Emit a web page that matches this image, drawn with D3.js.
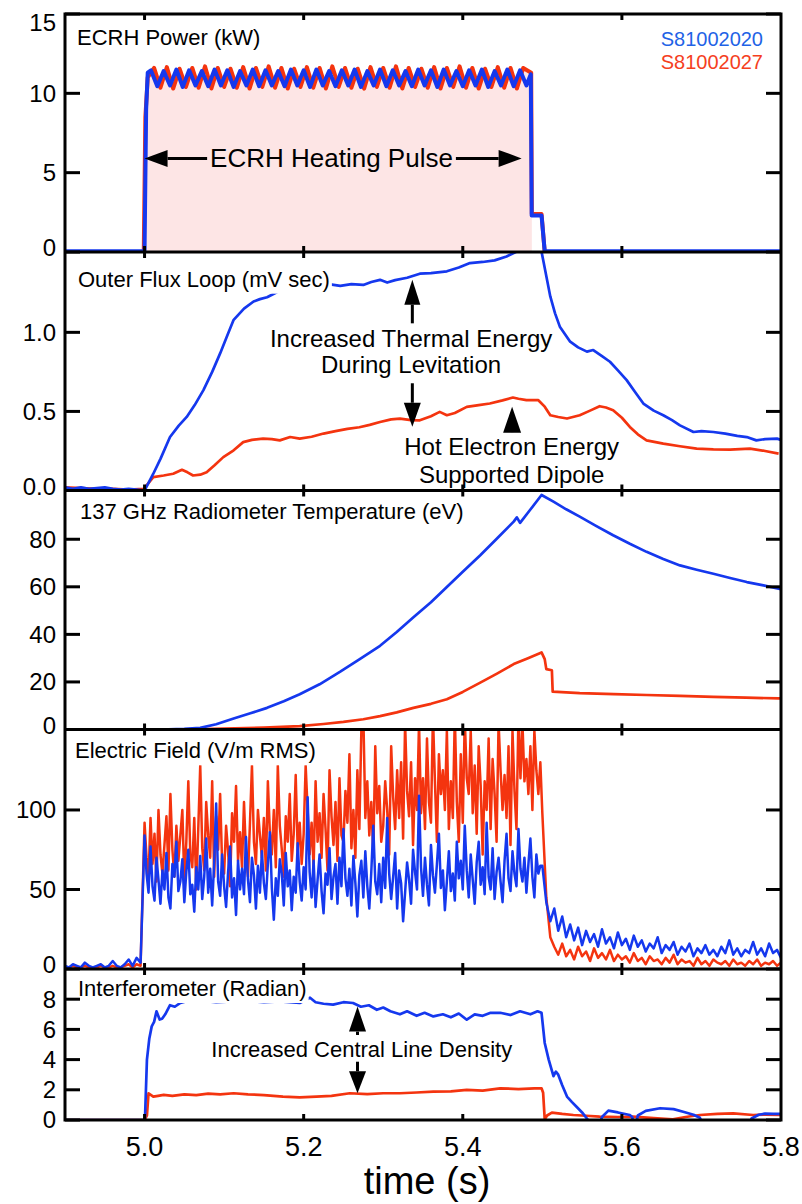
<!DOCTYPE html>
<html>
<head>
<meta charset="utf-8">
<script src="https://d3js.org/d3.v7.min.js"></script>
<style>
  body { margin: 0; background: #fff; }
  svg { display: block; font-family: "Liberation Sans", Arial, Helvetica, sans-serif; }
</style>
</head>
<body>
<div id="chart"></div>
<script>
// ---- data ----
var xTicks = [5.0, 5.2, 5.4, 5.6, 5.8];
var shotBlue = "S81002020", shotRed = "S81002027";

// ECRH power (kW): pulse ripple sampled every 8 ms
var ecrhBluePulse = [11.45,10.45,11.4,10.5,11.5,10.4,11.45,10.5,11.4,10.45,11.5,10.5,11.45,10.4,11.4,10.5,11.5,10.45,11.45,10.5,
  11.4,10.45,11.5,10.5,11.45,10.4,11.5,10.5,11.4,10.45,11.45,10.5,11.5,10.4,11.4,10.5,11.5,10.45,11.45,10.5,
  11.4,10.45,11.5,10.5,11.45,10.4,11.5,10.5,11.4,10.45,11.45,10.5,11.5,10.4,11.4,10.5,11.5,10.45,11.45,10.5];
var ecrhRedPulse = [11.6,10.35,11.65,10.3,11.55,10.4,11.6,10.35,11.7,10.3,11.6,10.4,11.55,10.35,11.65,10.3,11.6,10.4,11.7,10.35,
  11.6,10.3,11.55,10.4,11.65,10.35,11.6,10.3,11.7,10.4,11.6,10.35,11.55,10.3,11.65,10.4,11.6,10.35,11.7,10.3,
  11.6,10.4,11.55,10.35,11.65,10.3,11.6,10.4,11.7,10.35,11.6,10.3,11.55,10.4,11.65,10.35,11.6,10.3,11.6];
var ecrhBlueEdges = { before: [[4.9,0.05],[4.998,0.05],[5.0,0.1],[5.002,9],[5.004,11.3]],
                      after: [[5.4855,11.2],[5.4866,2.3],[5.499,2.3],[5.503,0.05],[5.8,0.05]] };
var ecrhRedEdges = { before: [[4.9,0],[4.999,0],[5.001,8.5],[5.004,11.0]],
                     after: [[5.486,11.3],[5.4868,2.4],[5.499,2.4],[5.503,0],[5.8,0]] };

// Outer flux loop (mV sec)
var fluxBlue = [[4.9,0.02],[4.91,0.01],[4.92,0.02],[4.93,0.01],[4.94,0.015],[4.95,0.02],[4.96,0.01],[4.97,0.005],[4.98,0.01],[4.99,0.005],
  [5.0,0.0],[5.011,0.106],[5.02,0.2],[5.032,0.338],[5.043,0.41],[5.053,0.465],[5.063,0.54],[5.074,0.635],[5.085,0.75],[5.095,0.867],
  [5.104,0.98],[5.112,1.079],[5.125,1.15],[5.137,1.195],[5.145,1.21],[5.154,1.222],[5.165,1.25],[5.175,1.285],[5.183,1.30],[5.195,1.307],
  [5.21,1.30],[5.225,1.31],[5.246,1.294],[5.26,1.305],[5.275,1.30],[5.285,1.318],[5.296,1.332],[5.305,1.315],[5.315,1.33],[5.33,1.345],
  [5.346,1.371],[5.36,1.375],[5.38,1.386],[5.395,1.41],[5.409,1.438],[5.425,1.445],[5.44,1.455],[5.455,1.48],[5.466,1.506],[5.475,1.53],
  [5.49,1.56],[5.497,1.56],[5.501,1.459],[5.51,1.227],[5.516,1.12],[5.522,1.036],[5.535,0.941],[5.545,0.905],[5.556,0.878],[5.564,0.888],
  [5.575,0.85],[5.585,0.814],[5.595,0.76],[5.606,0.698],[5.617,0.62],[5.627,0.55],[5.64,0.505],[5.652,0.476],[5.663,0.445],[5.673,0.412],
  [5.69,0.37],[5.7,0.375],[5.715,0.37],[5.73,0.36],[5.745,0.345],[5.757,0.338],[5.769,0.317],[5.78,0.325],[5.795,0.328],[5.8,0.32]];
var fluxRed = [[4.9,0.02],[4.92,0.015],[4.94,0.01],[4.96,0.01],[4.98,0.005],[4.999,0.01],[5.011,0.085],[5.024,0.095],[5.036,0.106],[5.047,0.131],
  [5.054,0.115],[5.061,0.095],[5.07,0.1],[5.078,0.116],[5.088,0.16],[5.099,0.211],[5.112,0.254],[5.124,0.306],[5.135,0.32],[5.149,0.328],
  [5.16,0.325],[5.17,0.317],[5.183,0.338],[5.195,0.328],[5.21,0.34],[5.225,0.36],[5.24,0.375],[5.255,0.39],[5.27,0.4],[5.283,0.415],
  [5.296,0.433],[5.31,0.45],[5.321,0.455],[5.335,0.445],[5.346,0.444],[5.36,0.47],[5.371,0.497],[5.38,0.476],[5.39,0.49],[5.405,0.529],
  [5.42,0.54],[5.434,0.55],[5.45,0.57],[5.463,0.588],[5.47,0.58],[5.48,0.571],[5.495,0.571],[5.503,0.53],[5.51,0.476],[5.52,0.465],
  [5.531,0.455],[5.547,0.476],[5.56,0.505],[5.572,0.533],[5.58,0.525],[5.589,0.508],[5.6,0.46],[5.61,0.402],[5.62,0.355],[5.631,0.317],
  [5.652,0.296],[5.673,0.28],[5.694,0.265],[5.715,0.26],[5.736,0.258],[5.761,0.265],[5.78,0.25],[5.797,0.233]];

// 137 GHz radiometer temperature (eV)
var radBlue = [[4.9,0],[5.0,0],[5.03,0.1],[5.05,0.3],[5.07,0.7],[5.09,2.2],[5.112,4.6],[5.133,6.8],[5.154,9.1],[5.175,11.9],
  [5.195,14.8],[5.22,19],[5.246,24.3],[5.27,29.5],[5.296,35.2],[5.317,41],[5.338,47.2],[5.36,53.5],[5.38,59.9],[5.40,66.3],
  [5.422,73.3],[5.443,80.3],[5.464,87.4],[5.468,89.2],[5.472,86.9],[5.485,92.5],[5.499,98.6],[5.514,95.8],[5.53,92.6],[5.547,89.5],
  [5.568,85.5],[5.589,81.7],[5.61,78.1],[5.631,74.7],[5.652,71.7],[5.673,69.0],[5.694,67.2],[5.715,65.5],[5.736,63.7],[5.757,62.0],
  [5.778,60.6],[5.797,59.2],[5.8,59]];
var radRed = [[4.9,0],[5.05,0],[5.1,0.4],[5.15,0.8],[5.195,1.4],[5.225,2.3],[5.25,3.2],[5.275,4.3],[5.296,5.6],[5.317,7.2],
  [5.338,9.1],[5.36,10.8],[5.38,12.7],[5.40,15.8],[5.422,19.7],[5.443,23.5],[5.464,27.5],[5.482,30],[5.499,32.4],[5.503,29.6],
  [5.505,25.4],[5.512,24.9],[5.513,15.9],[5.547,15.3],[5.59,14.9],[5.631,14.5],[5.673,14.1],[5.715,13.7],[5.756,13.4],[5.797,13.1],[5.8,13.1]];

// Electric field (V/m RMS): 5 ms samples before/after the pulse, 2.5 ms during it
var efBluePre = [2,1,3,2,1,4,2,1,2,3,1,2,5,2,1,3,6,2,7,4];
var efBluePulse = [
  84,60,48,77,52,43,70,56,41,62, 50,73,45,38,66,58,80,49,55,69,
  42,61,75,47,53,36,64,50,71,44, 58,82,48,63,40,67,104,55,46,72,
  52,39,61,77,45,57,34,68,50,63, 47,83,56,42,70,59,38,65,48,74,
  54,44,66,86,51,31,57,46,69,60, 40,73,52,62,37,58,48,79,55,43,
  64,50,108,61,45,68,39,56,72,49, 35,60,53,76,44,58,66,41,70,52,
  88,57,46,63,40,71,54,33,59,68, 45,74,52,38,61,90,55,47,66,42,
  70,51,95,60,44,58,73,38,62,54, 30,48,67,56,41,75,61,50,109,64,
  46,70,53,40,78,59,48,66,85,51, 62,37,55,74,49,60,43,80,57,68,
  50,90,62,45,72,56,41,67,80,53, 64,47,92,58,50,76,44,61,70,55,
  42,68,85,57,49,74,60,52,88,63, 55,70,48,66,82,58,45,72,60,65];
var efBluePost = [65,
  42,30,38,24,33,20,28,18,26,15, 24,17,22,14,25,16,20,13,23,15,
  19,12,21,14,18,11,16,13,20,10, 15,12,17,9,14,11,16,8,13,10,
  15,9,12,8,14,10,18,9,13,8, 12,10,17,9,13,8,16,10,12,7];
var efRedPre = [1,1,2,1,1,2,1,1,1,2,1,1,2,1,1,2,3,1,3,2];
var efRedPulse = [
  92,70,58,95,66,85,55,100,72,60, 78,96,62,110,75,58,90,68,84,100,
  55,80,118,72,64,95,50,88,128,76, 62,105,84,70,118,58,96,75,110,66,
  60,90,74,52,98,80,115,68,86,64, 105,72,58,92,128,80,66,100,84,70,
  95,62,118,86,72,100,64,128,90,75, 58,96,80,110,68,85,122,74,92,66,
  85,128,100,72,92,64,118,80,98,70, 110,88,62,125,96,78,105,68,120,84,
  80,112,92,135,76,100,70,125,88,150, 160,95,118,84,105,72,140,98,115,80,
  90,118,100,72,140,108,88,125,95,130, 82,155,112,96,130,78,120,100,155,98,
  120,88,145,105,92,160,118,80,135,110, 125,100,150,88,118,95,160,105,80,135,
  92,158,120,110,150,98,128,85,140,115, 72,118,100,145,88,132,110,80,155,125,
  100,122,95,140,78,150,112,88,160,120, 155,118,132,110,140,100,150,125,110,130];
var efRedPost = [98,
  45,20,14,9,16,8,12,6,14,8, 11,5,13,7,10,6,12,5,9,6,
  8,4,10,5,7,3,8,5,6,3, 7,4,9,3,6,4,5,2,7,3,
  5,2,6,4,3,5,2,6,3,4, 2,5,3,6,2,4,3,5,2,4];

// Interferometer (radian)
var intBlue = [[4.9,0],[4.9995,0],[5.0006,0.2],[5.003,4],[5.006,5.4],[5.009,6.2],[5.012,6.5],[5.015,7.2],[5.019,6.65],[5.022,6.7],
  [5.026,7.0],[5.032,7.6],[5.038,7.5],[5.045,7.75],[5.053,7.86],[5.07,7.9],[5.09,7.8],[5.11,7.85],[5.13,7.9],[5.15,7.8],
  [5.17,7.85],[5.195,7.75],[5.208,8.1],[5.215,7.8],[5.225,7.7],[5.237,7.64],[5.25,7.8],[5.262,7.75],[5.272,7.5],[5.282,7.6],
  [5.292,7.3],[5.3,7.45],[5.309,7.2],[5.321,7.0],[5.33,7.2],[5.342,6.9],[5.352,7.1],[5.363,6.86],[5.375,7.0],[5.385,6.8],
  [5.395,7.05],[5.405,6.64],[5.415,7.0],[5.425,6.9],[5.435,7.1],[5.447,7.1],[5.46,6.95],[5.472,7.2],[5.485,7.0],[5.494,7.2],
  [5.499,7.1],[5.503,5.1],[5.508,4.0],[5.514,2.9],[5.517,3.2],[5.52,3.0],[5.525,2.3],[5.531,1.55],[5.537,1.2],[5.543,0.88],
  [5.55,0.5],[5.556,0.1],[5.565,-0.5],[5.571,-0.5],[5.575,0.2],[5.583,0.62],[5.595,0.5],[5.61,0.33],[5.613,0.2],[5.615,-0.5],
  [5.617,-0.5],[5.62,0.3],[5.63,0.6],[5.648,0.78],[5.665,0.72],[5.677,0.55],[5.69,0.35],[5.698,0.15],[5.703,-0.5],[5.758,-0.5],
  [5.763,0.1],[5.772,0.35],[5.78,0.42],[5.79,0.4],[5.8,0.4]];
var intRed = [[4.9,0],[5.0,0],[5.003,0.3],[5.005,1.77],[5.011,1.55],[5.017,1.6],[5.024,1.66],[5.035,1.6],[5.05,1.7],[5.065,1.65],
  [5.08,1.75],[5.095,1.7],[5.112,1.77],[5.13,1.7],[5.15,1.65],[5.174,1.55],[5.195,1.5],[5.216,1.55],[5.235,1.6],[5.258,1.77],
  [5.28,1.72],[5.3,1.77],[5.321,1.77],[5.342,1.82],[5.363,1.88],[5.385,1.9],[5.405,2.0],[5.425,1.95],[5.447,2.1],[5.47,2.05],
  [5.49,2.1],[5.499,2.1],[5.501,1.8],[5.503,0.05],[5.506,0.3],[5.512,0.49],[5.525,0.4],[5.539,0.33],[5.555,0.28],[5.572,0.22],
  [5.595,0.2],[5.614,0.22],[5.64,0.12],[5.664,0.05],[5.68,0.2],[5.698,0.33],[5.72,0.4],[5.74,0.44],[5.765,0.33],[5.78,0.36],[5.8,0.33]];

// ---- build series ----
function sampled(t0, dt, vals) { return vals.map(function(v, i) { return [t0 + i * dt, v]; }); }
var ecrhBlue = ecrhBlueEdges.before.concat(sampled(5.008, 0.008, ecrhBluePulse), ecrhBlueEdges.after);
var ecrhRed = ecrhRedEdges.before.concat(sampled(5.012, 0.008, ecrhRedPulse), ecrhRedEdges.after);
var efBlue = sampled(4.9, 0.005, efBluePre).concat(sampled(5.0, 0.0025, efBluePulse), sampled(5.5, 0.005, efBluePost));
var efRed = sampled(4.9, 0.005, efRedPre).concat(sampled(5.0, 0.0025, efRedPulse), sampled(5.5, 0.005, efRedPost));

var BLUE = "#1538ee", RED = "#f4340f", PINK = "#fde5e5";

var panels = [
  { title: "ECRH Power (kW)", top: 14, bottom: 252, max: 15, ticks: [0, 5, 10, 15], fmt: d3.format("d"),
    titleX: 77, titleDy: 31, blue: ecrhBlue, red: ecrhRed, sw: 4, fill: true },
  { title: "Outer Flux Loop (mV sec)", top: 252, bottom: 490.5, max: 1.508, ticks: [0, 0.5, 1.0], fmt: d3.format(".1f"),
    titleX: 78, titleDy: 34.7, blue: fluxBlue, red: fluxRed, sw: 2.7 },
  { title: "137 GHz Radiometer Temperature (eV)", top: 490.5, bottom: 729.5, max: 100.5, ticks: [0, 20, 40, 60, 80], fmt: d3.format("d"),
    titleX: 80, titleDy: 28.8, blue: radBlue, red: radRed, sw: 2.7 },
  { title: "Electric Field (V/m RMS)", top: 729.5, bottom: 969, max: 150.6, ticks: [0, 50, 100], fmt: d3.format("d"),
    titleX: 75, titleDy: 28.8, blue: efBlue, red: efRed, sw: 2.5 },
  { title: "Interferometer (Radian)", top: 969, bottom: 1120, max: 10, ticks: [0, 2, 4, 6, 8], fmt: d3.format("d"),
    titleX: 78, titleDy: 27, blue: intBlue, red: intRed, sw: 2.7 }
];

// ---- chart ----
var x = d3.scaleLinear().domain([4.9, 5.8]).range([65, 781]);
var svg = d3.select("#chart").append("svg").attr("width", 802).attr("height", 1204);
var defs = svg.append("defs");

function arrow(g, x1, y1, x2, y2, len, half) {
    var dx = x2 - x1, dy = y2 - y1, d = Math.sqrt(dx * dx + dy * dy);
    var ux = dx / d, uy = dy / d;
    var bx = x2 - ux * len, by = y2 - uy * len;
    if (d > len) {
        g.append("line").attr("x1", x1).attr("y1", y1).attr("x2", bx).attr("y2", by)
            .attr("stroke", "#000").attr("stroke-width", 3);
    }
    g.append("path")
        .attr("d", "M" + x2 + "," + y2 + "L" + (bx - uy * half) + "," + (by + ux * half) +
            "L" + (bx + uy * half) + "," + (by - ux * half) + "Z")
        .attr("fill", "#000");
}

panels.forEach(function(p, i) {
    var y = d3.scaleLinear().domain([0, p.max]).range([p.bottom, p.top]);
    p.y = y;
    defs.append("clipPath").attr("id", "clip" + i)
        .append("rect").attr("x", 65).attr("y", p.top).attr("width", 716).attr("height", p.bottom - p.top);

    var g = svg.append("g");
    var plot = g.append("g").attr("clip-path", "url(#clip" + i + ")");
    var line = d3.line().x(function(d) { return x(d[0]); }).y(function(d) { return y(d[1]); });

    if (p.fill) {
        plot.append("path").datum(p.red.filter(function(d) { return d[0] >= 5.0 && d[0] <= 5.487; }))
            .attr("d", d3.area().x(function(d) { return x(d[0]); }).y0(y(0)).y1(function(d) { return y(d[1]); }))
            .attr("fill", PINK);
    }
    plot.append("path").datum(p.red).attr("d", line)
        .attr("fill", "none").attr("stroke", RED).attr("stroke-width", p.sw).attr("stroke-linejoin", "round");
    plot.append("path").datum(p.blue).attr("d", line)
        .attr("fill", "none").attr("stroke", BLUE).attr("stroke-width", p.sw).attr("stroke-linejoin", "round");

    // title on a white box
    var title = g.append("text").attr("x", p.titleX).attr("y", p.top + p.titleDy)
        .attr("font-size", 22).attr("fill", "#000").text(p.title);
    var bb = title.node().getBBox();
    g.insert("rect", "text").attr("x", bb.x - 2).attr("y", bb.y - 1)
        .attr("width", bb.width + 4).attr("height", bb.height + 3).attr("fill", "#fff");

    // y ticks + labels
    p.ticks.forEach(function(v) {
        var ty = y(v);
        g.append("line").attr("x1", 65).attr("x2", 80).attr("y1", ty).attr("y2", ty)
            .attr("stroke", "#000").attr("stroke-width", 3);
        g.append("line").attr("x1", 766).attr("x2", 781).attr("y1", ty).attr("y2", ty)
            .attr("stroke", "#000").attr("stroke-width", 3);
        var ly = Math.max(p.top + 9, Math.min(p.bottom - (i === 4 ? -3 : 4), ty));
        g.append("text").attr("x", 56).attr("y", ly).attr("dy", "0.35em")
            .attr("text-anchor", "end").attr("font-size", 24).text(p.fmt(v));
    });

    // small x ticks at top and bottom of each panel
    xTicks.slice(0, 4).forEach(function(t) {
        g.append("line").attr("x1", x(t)).attr("x2", x(t)).attr("y1", p.top).attr("y2", p.top + 6)
            .attr("stroke", "#000").attr("stroke-width", 3);
        g.append("line").attr("x1", x(t)).attr("x2", x(t)).attr("y1", p.bottom - 6).attr("y2", p.bottom)
            .attr("stroke", "#000").attr("stroke-width", 3);
    });
});

// frame and panel dividers
svg.append("rect").attr("x", 65).attr("y", 14).attr("width", 716).attr("height", 1106)
    .attr("fill", "none").attr("stroke", "#000").attr("stroke-width", 3);
panels.slice(1).forEach(function(p) {
    svg.append("line").attr("x1", 65).attr("x2", 781).attr("y1", p.top).attr("y2", p.top)
        .attr("stroke", "#000").attr("stroke-width", 3);
});

// x axis labels
svg.selectAll(".xl").data(xTicks).enter().append("text")
    .attr("x", function(d) { return x(d); }).attr("y", 1147).attr("dy", "0.35em")
    .attr("text-anchor", "middle").attr("font-size", 27).text(d3.format(".1f"));
svg.append("text").attr("x", 427).attr("y", 1194).attr("text-anchor", "middle")
    .attr("font-size", 38).text("time (s)");

// legend
svg.append("text").attr("x", 763).attr("y", 46).attr("text-anchor", "end").attr("font-size", 20)
    .attr("fill", "#1f63e6").text(shotBlue);
svg.append("text").attr("x", 763).attr("y", 69).attr("text-anchor", "end").attr("font-size", 20)
    .attr("fill", "#f5401e").text(shotRed);

// ---- annotations ----
var ann = svg.append("g");
var p1 = panels[0], p2 = panels[1], p5 = panels[4];

// heating pulse double arrow
var ht = ann.append("text").attr("x", x(5.235)).attr("y", p1.y(5.375)).attr("text-anchor", "middle")
    .attr("font-size", 26).text("ECRH Heating Pulse");
var hb = ht.node().getBBox();
arrow(ann, hb.x - 3, p1.y(5.9), x(5.0), p1.y(5.9), 23, 8.5);
arrow(ann, hb.x + hb.width + 3, p1.y(5.9), x(5.474), p1.y(5.9), 23, 8.5);

// flux loop notes
ann.append("text").attr("x", x(5.335)).attr("y", p2.y(0.909)).attr("text-anchor", "middle")
    .attr("font-size", 24).text("Increased Thermal Energy");
ann.append("text").attr("x", x(5.335)).attr("y", p2.y(0.741)).attr("text-anchor", "middle")
    .attr("font-size", 24).text("During Levitation");
arrow(ann, x(5.3366), p2.y(1.057), x(5.3366), p2.y(1.333), 25, 8);
arrow(ann, x(5.3366), p2.y(0.678), x(5.3366), p2.y(0.403), 24, 8.5);
ann.append("text").attr("x", x(5.4614)).attr("y", p2.y(0.224)).attr("text-anchor", "middle")
    .attr("font-size", 24).text("Hot Electron Energy");
ann.append("text").attr("x", x(5.4614)).attr("y", p2.y(0.049)).attr("text-anchor", "middle")
    .attr("font-size", 24).text("Supported Dipole");
arrow(ann, x(5.462), p2.y(0.365), x(5.462), p2.y(0.53), 26, 9);

// interferometer note
ann.append("text").attr("x", x(5.273)).attr("y", p5.y(4.195)).attr("text-anchor", "middle")
    .attr("font-size", 22).text("Increased Central Line Density");
arrow(ann, x(5.2677), p5.y(5.63), x(5.2677), p5.y(7.51), 25, 8.5);
arrow(ann, x(5.2677), p5.y(3.86), x(5.2677), p5.y(1.77), 22, 8.5);
</script>
</body>
</html>
